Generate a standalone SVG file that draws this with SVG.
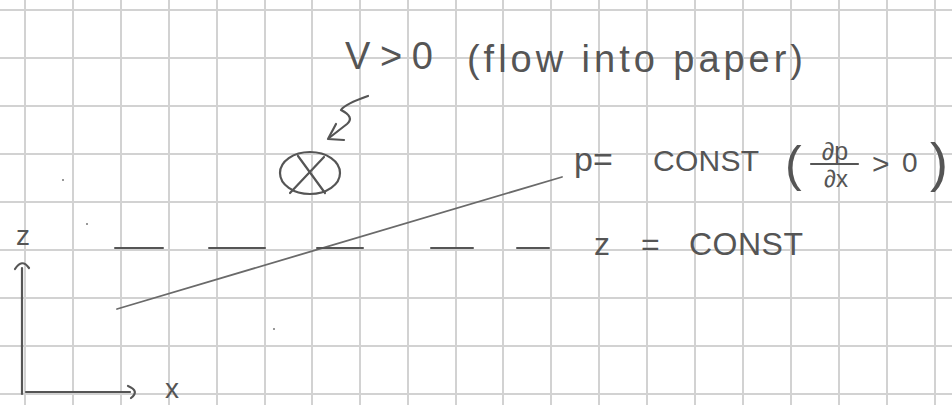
<svg xmlns="http://www.w3.org/2000/svg" width="952" height="405" viewBox="0 0 952 405">
<style>
.grid line{stroke:#d2d2d2;stroke-width:2}
.ink{stroke:#555;stroke-width:2.2;fill:none;stroke-linecap:round;stroke-linejoin:round}
.thin{stroke:#6a6a6a;stroke-width:1.8;fill:none;stroke-linecap:round}
.dash{stroke:#555;stroke-width:2;stroke-linecap:round}
text{font-family:"Liberation Sans","DejaVu Sans",sans-serif;fill:#555}
</style>
<rect width="952" height="405" fill="#fff"/>
<g id="grid" class="grid">
<line x1="25" y1="0" x2="25" y2="405"/><line x1="73" y1="0" x2="73" y2="405"/><line x1="121" y1="0" x2="121" y2="405"/><line x1="169" y1="0" x2="169" y2="405"/><line x1="217" y1="0" x2="217" y2="405"/><line x1="265" y1="0" x2="265" y2="405"/><line x1="312" y1="0" x2="312" y2="405"/><line x1="360" y1="0" x2="360" y2="405"/><line x1="408" y1="0" x2="408" y2="405"/><line x1="456" y1="0" x2="456" y2="405"/><line x1="503" y1="0" x2="503" y2="405"/><line x1="551" y1="0" x2="551" y2="405"/><line x1="599" y1="0" x2="599" y2="405"/><line x1="647" y1="0" x2="647" y2="405"/><line x1="695" y1="0" x2="695" y2="405"/><line x1="743" y1="0" x2="743" y2="405"/><line x1="791" y1="0" x2="791" y2="405"/><line x1="839" y1="0" x2="839" y2="405"/><line x1="887" y1="0" x2="887" y2="405"/><line x1="935" y1="0" x2="935" y2="405"/>
<line x1="0" y1="10" x2="952" y2="10"/><line x1="0" y1="58" x2="952" y2="58"/><line x1="0" y1="106" x2="952" y2="106"/><line x1="0" y1="154" x2="952" y2="154"/><line x1="0" y1="202" x2="952" y2="202"/><line x1="0" y1="250" x2="952" y2="250"/><line x1="0" y1="298" x2="952" y2="298"/><line x1="0" y1="346" x2="952" y2="346"/><line x1="0" y1="394" x2="952" y2="394"/>
</g>
<g id="specks" fill="#777">
<circle cx="87" cy="224" r="1"/><circle cx="274" cy="329" r="1"/><circle cx="63" cy="180" r="1"/>
</g>
<g id="axes">
<line class="ink" x1="22" y1="268" x2="22" y2="394"/>
<path class="ink" d="M15,269 Q22,258 29,268"/>
<line class="ink" x1="26" y1="392" x2="130" y2="392"/>
<path class="ink" d="M128,386 Q140,391 131,398"/>
<text x="23" y="245" font-size="28" text-anchor="middle">z</text>
<text x="172" y="398" font-size="28" text-anchor="middle">x</text>
</g>
<g id="connectors">
<line class="thin" x1="117" y1="309" x2="562" y2="177"/>
<g id="z-const-line">
<line class="dash" x1="115" y1="248" x2="163" y2="248"/>
<line class="dash" x1="209" y1="248" x2="265" y2="248"/>
<line class="dash" x1="317" y1="248" x2="363" y2="248"/>
<line class="dash" x1="431" y1="248" x2="473" y2="248"/>
<line class="dash" x1="517" y1="248" x2="549" y2="248"/>
</g>
<path class="ink" d="M368,96 Q345,104 341,110 Q355,117 347,124 L329,138"/>
<path class="ink" d="M336,124 L328,139 L344,140"/>
</g>
<g id="flow-symbol">
<ellipse class="ink" cx="310" cy="173" rx="30" ry="21"/>
<line class="ink" x1="298" y1="156" x2="325" y2="193"/>
<line class="ink" x1="324" y1="157" x2="290" y2="193"/>
</g>
<g id="label-v">
<text x="345" y="69" font-size="38" textLength="88" lengthAdjust="spacing">V&gt;0</text>
<text x="467" y="72" font-size="38" textLength="336" lengthAdjust="spacing">(flow into paper)</text>
</g>
<g id="label-p">
<text y="171" font-size="34"><tspan x="574">p</tspan><tspan x="593">=</tspan><tspan x="653" font-size="30" textLength="106" lengthAdjust="spacing">CONST</tspan></text>
<text x="785" y="181" font-size="50">(</text>
<text x="835" y="160" font-size="25" text-anchor="middle">∂p</text>
<line class="ink" x1="811" y1="164" x2="858" y2="164"/>
<text x="836" y="187" font-size="24" text-anchor="middle">∂x</text>
<text x="872" y="174" font-size="30">&gt;</text>
<text x="902" y="172" font-size="28">0</text>
<text x="930" y="181" font-size="54">)</text>
</g>
<g id="label-z">
<text y="255" font-size="32"><tspan x="594">z</tspan><tspan x="641">=</tspan><tspan x="689" textLength="114" lengthAdjust="spacing">CONST</tspan></text>
</g>
</svg>
